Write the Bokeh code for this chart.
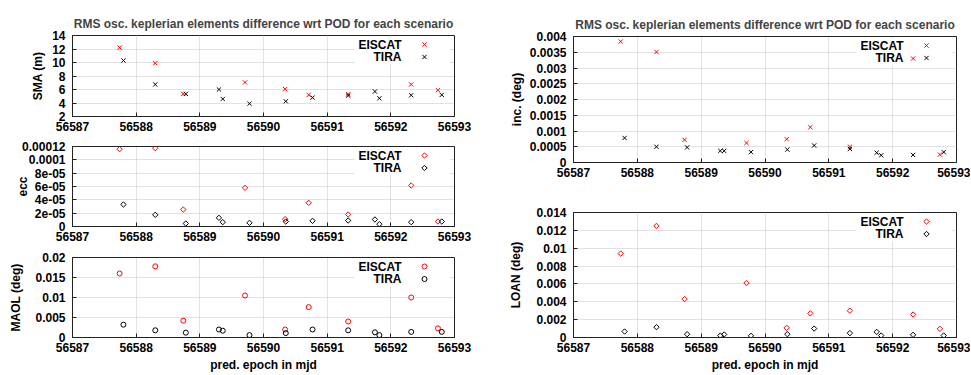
import math
from bokeh.plotting import figure
from bokeh.layouts import row, column
from bokeh.models import (FixedTicker, Label, BoxAnnotation, Range1d)
from bokeh.embed import file_html
from bokeh.resources import INLINE

# ---------------- data ----------------
title_text = "RMS osc. keplerian elements difference wrt POD for each scenario"
x_label = "pred. epoch in mjd"
series_names = ["EISCAT", "TIRA"]

x_ticks = [56587, 56588, 56589, 56590, 56591, 56592, 56593]

epoch_eiscat = [56587.74, 56588.30, 56588.74, 56589.71, 56590.34, 56590.71,
                56591.33, 56592.32, 56592.74]
epoch_tira = [56587.80, 56588.30, 56588.78, 56589.30, 56589.36, 56589.78,
              56590.35, 56590.77, 56591.33, 56591.75, 56591.82, 56592.32, 56592.80]

sma_eiscat = [12.2, 9.9, 5.35, 7.05, 6.05, 5.2, 5.3, 6.75, 5.9]
sma_tira = [10.3, 6.75, 5.35, 6.0, 4.6, 3.9, 4.25, 4.8, 5.1, 5.7, 4.7, 5.15, 5.2]

ecc_eiscat = [1.16e-4, 1.175e-4, 2.55e-5, 5.8e-5, 1.1e-5, 3.55e-5, 1.8e-5, 6.15e-5, 7.5e-6]
ecc_tira = [3.3e-5, 1.75e-5, 4.5e-6, 1.3e-5, 6.5e-6, 5.5e-6, 7.5e-6, 8.5e-6, 9e-6,
            1.05e-5, 3.5e-6, 6.5e-6, 7.5e-6]

maol_eiscat = [0.016, 0.0178, 0.0042, 0.0105, 0.002, 0.0076, 0.004, 0.01, 0.0023]
maol_tira = [0.0032, 0.0018, 0.0012, 0.002, 0.0017, 0.0006, 0.0011, 0.002, 0.0018,
             0.0013, 0.0006, 0.0014, 0.0014]

inc_eiscat = [0.00384, 0.00351, 0.00072, 0.00062, 0.00074, 0.00112, 0.0005, 0.0033, 0.00025]
inc_tira = [0.00078, 0.0005, 0.00048, 0.00037, 0.00037, 0.00033, 0.00041, 0.00054,
            0.00043, 0.00031, 0.00023, 0.00024, 0.00033]

loan_eiscat = [0.0094, 0.0125, 0.0043, 0.0061, 0.00108, 0.0027, 0.003, 0.00257, 0.00097]
loan_tira = [0.00067, 0.00116, 0.00037, 0.00022, 0.00034, 0.00019, 0.00037, 0.001,
             0.00049, 0.00063, 0.00022, 0.0003, 0.00022]

sma_ticks = [2, 4, 6, 8, 10, 12, 14]
sma_tick_labels = ["2", "4", "6", "8", "10", "12", "14"]
ecc_ticks = [0, 2e-05, 4e-05, 6e-05, 8e-05, 0.0001, 0.00012]
ecc_tick_labels = ["0", "2e-05", "4e-05", "6e-05", "8e-05", "0.0001", "0.00012"]
maol_ticks = [0, 0.005, 0.01, 0.015, 0.02]
maol_tick_labels = ["0", "0.005", "0.01", "0.015", "0.02"]
inc_ticks = [0, 0.0005, 0.001, 0.0015, 0.002, 0.0025, 0.003, 0.0035, 0.004]
inc_tick_labels = ["0", "0.0005", "0.001", "0.0015", "0.002", "0.0025", "0.003", "0.0035", "0.004"]
loan_ticks = [0, 0.002, 0.004, 0.006, 0.008, 0.01, 0.012, 0.014]
loan_tick_labels = ["0", "0.002", "0.004", "0.006", "0.008", "0.01", "0.012", "0.014"]

# ---------------- style ----------------
FONT = "Liberation Sans"
FS = "12px"
RED = "#ff0000"
BLACK = "#000000"
GRID = "#c4c4c4"
FRAME = "#222222"


def panel(width, height, bl, br, bt, bb, yticks, ylabels, ylabel, ylabel_standoff,
          marker, ye, yt, title=None, xlabel=False):
    x0, x1 = x_ticks[0], x_ticks[-1]
    y0, y1 = yticks[0], yticks[-1]
    fw = width - bl - br
    fh = height - bt - bb
    p = figure(width=width, height=height, x_range=Range1d(x0, x1), y_range=Range1d(y0, y1),
               output_backend="svg", toolbar_location=None,
               min_border_left=bl, min_border_right=br, min_border_top=bt, min_border_bottom=bb)
    p.background_fill_color = "white"
    p.border_fill_color = "white"
    p.outline_line_color = FRAME
    p.outline_line_width = 1

    p.xaxis.ticker = FixedTicker(ticks=x_ticks)
    p.yaxis.ticker = FixedTicker(ticks=yticks)
    p.yaxis.major_label_overrides = {v: s for v, s in zip(yticks, ylabels)}
    for ax in (p.xaxis, p.yaxis):
        ax.major_tick_in = 4
        ax.major_tick_out = 0
        ax.minor_tick_line_color = None
        ax.axis_line_color = FRAME
        ax.major_tick_line_color = FRAME
        ax.major_label_text_font = FONT
        ax.major_label_text_font_style = "bold"
        ax.major_label_text_font_size = FS
        ax.major_label_text_color = "black"
        ax.axis_label_text_font = FONT
        ax.axis_label_text_font_style = "bold"
        ax.axis_label_text_font_size = FS
        ax.axis_label_text_color = "black"
    p.xaxis.major_label_standoff = 5
    p.yaxis.major_label_standoff = 7
    p.yaxis.axis_label = ylabel
    p.yaxis.axis_label_standoff = ylabel_standoff
    if xlabel:
        p.xaxis.axis_label = x_label
        p.xaxis.axis_label_standoff = 3
    for g in (p.xgrid, p.ygrid):
        g.grid_line_color = GRID
        g.grid_line_dash = "1 1"
        g.grid_line_width = 1

    if title:
        p.title.text = title
        p.title.align = "center"
        p.title.text_font = FONT
        p.title.text_font_size = FS
        p.title.text_font_style = "bold"
        p.title.standoff = 9

    # white key background
    xs = (x1 - x0) / fw
    ys = (y1 - y0) / fh
    p.add_layout(BoxAnnotation(left=x1 - 100 * xs, right=x1 - 5 * xs,
                               top=y1 - 2 * ys, bottom=y1 - 29 * ys,
                               fill_color="white", fill_alpha=1.0, line_color=None,
                               level="underlay"))

    kw = dict(marker=marker, fill_color=None, line_width=1)
    if marker == "x":
        kw["size"] = 6
    elif marker == "square":
        kw["size"] = 3.8
        kw["angle"] = math.pi / 4
    else:
        kw["size"] = 5
    p.scatter(x=epoch_eiscat, y=ye, line_color=RED, **kw)
    p.scatter(x=epoch_tira, y=yt, line_color=BLACK, **kw)

    # key: text labels then sample markers (placed in px from the frame's top-right)
    key_colors = [RED, BLACK]
    for i, name in enumerate(series_names):
        p.add_layout(Label(x=x1, y=y1, x_offset=-53, y_offset=-(9 + 12.5 * i), text=name,
                           text_align="right", text_baseline="middle",
                           text_font=FONT, text_font_size=FS, text_font_style="bold",
                           text_color="black"))
    p.scatter(x=[x1 - 30 * xs, x1 - 30 * xs], y=[y1 - 9 * ys, y1 - 21.5 * ys],
              line_color=key_colors, **kw)
    return p


LW = 490
RW = 480

p_sma = panel(LW, 138, 72, 36, 35, 22, sma_ticks, sma_tick_labels, "SMA (m)", 4,
              "x", sma_eiscat, sma_tira, title=title_text)
p_ecc = panel(LW, 110, 72, 36, 8, 22, ecc_ticks, ecc_tick_labels, "ecc", -11,
              "square", ecc_eiscat, ecc_tira)
p_maol = panel(LW, 126, 72, 36, 9, 37, maol_ticks, maol_tick_labels, "MAOL (deg)", 9,
               "circle", maol_eiscat, maol_tira, xlabel=True)

p_inc = panel(RW, 184, 83, 14, 36, 22, inc_ticks, inc_tick_labels, "inc. (deg)", 3,
              "x", inc_eiscat, inc_tira, title=title_text)
p_loan = panel(RW, 190, 83, 14, 28, 37, loan_ticks, loan_tick_labels, "LOAN (deg)", 10,
               "square", loan_eiscat, loan_tira, xlabel=True)

layout = row(column(p_sma, p_ecc, p_maol, spacing=0), column(p_inc, p_loan, spacing=0), spacing=0)

open("out.html", "w").write(file_html(layout, INLINE))
